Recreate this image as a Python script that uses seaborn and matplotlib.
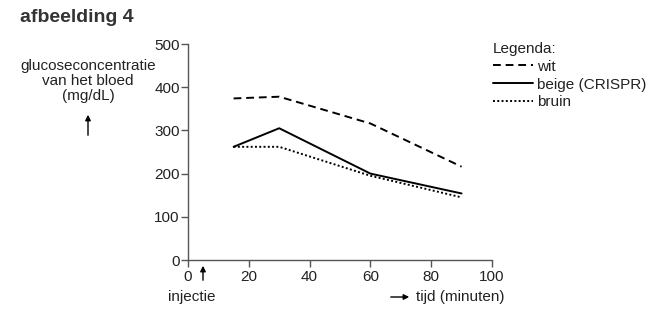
import matplotlib
matplotlib.use("Agg")
import matplotlib.pyplot as plt
import seaborn as sns
import pandas as pd
from matplotlib.lines import Line2D

sns.set_style("white")
plt.rcParams['font.family'] = ['Liberation Sans', 'DejaVu Sans']

tijd = [15, 30, 60, 90]
wit = [374, 378, 316, 216]
beige = [262, 305, 200, 154]
bruin = [262, 262, 195, 145]
labels = ["wit", "beige (CRISPR)", "bruin"]
styles = [(0, (4, 2.5)), "-", (0, (1, 1.2))]

fig = plt.figure(figsize=(6.64, 3.16), dpi=100)
ax = fig.add_axes([188/664, 1-260/316, (492-188)/664, (260-44)/316])

for vals, lab, ls in zip([wit, beige, bruin], labels, styles):
    df = pd.DataFrame({"tijd": tijd, "glucose": vals})
    sns.lineplot(data=df, x="tijd", y="glucose", ax=ax, color="black",
                 linestyle=ls, linewidth=1.4, label=lab)

ax.set_xlim(0, 100)
ax.set_ylim(0, 500)
ax.set_xticks([0, 20, 40, 60, 80, 100])
ax.set_yticks([0, 100, 200, 300, 400, 500])
ax.set_xlabel("")
ax.set_ylabel("")
for s in ["top", "right"]:
    ax.spines[s].set_visible(False)
for s in ["left", "bottom"]:
    ax.spines[s].set_color("#555555")
    ax.spines[s].set_linewidth(1.0)
ax.tick_params(axis="both", which="both", length=5, width=1.0, color="#555555",
               labelsize=11, labelcolor="#222222", pad=1, direction="out",
               bottom=True, left=True)
ax.tick_params(axis="x", pad=2)

handles = [Line2D([], [], color="black", linestyle=ls, linewidth=1.4) for ls in styles]
leg = ax.legend(handles, labels, title="Legenda:", loc="upper left",
                bbox_to_anchor=(493/664, 1-42/316), bbox_transform=fig.transFigure,
                frameon=False, fontsize=11, title_fontsize=11, handlelength=2.6,
                handletextpad=0.3, labelspacing=0.25, borderpad=0, borderaxespad=0)
leg._legend_box.align = "left"
for t in leg.get_texts():
    t.set_color("#222222")
leg.get_title().set_color("#222222")

fig.text(20/664, 1-18/316, "afbeelding 4", fontsize=14, fontweight="bold",
         color="#333333", ha="left", va="center")
fig.text(88/664, 1-81/316, "glucoseconcentratie\nvan het bloed\n(mg/dL)",
         fontsize=11, color="#222222", ha="center", va="center", linespacing=1.05)
fig.patches.append(matplotlib.patches.FancyArrowPatch(
    (88/664, 1-138/316), (88/664, 1-112/316), transform=fig.transFigure,
    arrowstyle="-|>", mutation_scale=8, color="black", lw=1))
fig.patches.append(matplotlib.patches.FancyArrowPatch(
    (203/664, 1-283/316), (203/664, 1-263/316), transform=fig.transFigure,
    arrowstyle="-|>", mutation_scale=8, color="black", lw=1))
fig.text(192/664, 1-297/316, "injectie", fontsize=11, color="#222222",
         ha="center", va="center")
fig.patches.append(matplotlib.patches.FancyArrowPatch(
    (388/664, 1-297/316), (412/664, 1-297/316), transform=fig.transFigure,
    arrowstyle="-|>", mutation_scale=8, color="black", lw=1))
fig.text(416/664, 1-297/316, "tijd (minuten)", fontsize=11, color="#222222",
         ha="left", va="center")

fig.savefig("out.png", dpi=100)
